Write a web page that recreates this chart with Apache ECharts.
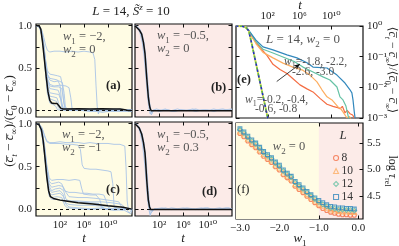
<!DOCTYPE html>
<html><head><meta charset="utf-8">
<script src="https://cdn.jsdelivr.net/npm/echarts@6/dist/echarts.min.js"></script>
<style>html,body{margin:0;padding:0;background:#fff}#c{width:399px;height:246px}</style>
</head><body><div id="c"></div>
<script>
// ---------------- DATA ----------------
// time axes are stored as log10(t)
const tTicks = [2, 6, 10];
// panel (a): w1=-2, w2=0
const aMean = [[-2,1],[-1.5,1],[-1.2,0.96],[-0.9,0.8],[-0.6,0.6],[-0.3,0.4],[0,0.22],[0.3,0.12],[0.6,0.09],[1.0,0.085],[1.5,0.085],[1.8,0.07],[2.1,0.03],[2.5,0.02],[3,0.02],[5,0.022],[7,0.02],[9,0.022],[11,0.02],[12,0.018],[12.8,0.01],[13.3,0.003],[14,0.002]];
const aRuns = [
 [[-2,1],[-1.4,0.99],[-1.0,0.94],[-0.7,0.86],[-0.4,0.77],[-0.1,0.71],[0.3,0.69],[1,0.7],[2,0.7],[3,0.69],[4,0.7],[5,0.69],[6,0.7],[7,0.69],[7.5,0.68],[7.8,0.6],[8.0,0.3],[8.2,0.05],[8.4,-0.04],[8.6,0.01],[9,0.0],[10,0.01],[11,-0.01],[12,0.0],[13,0.01],[14,0.0]],
 [[-2,1],[-1.4,0.99],[-1.0,0.92],[-0.7,0.78],[-0.4,0.6],[-0.1,0.47],[0.3,0.43],[1,0.42],[1.6,0.41],[2.1,0.4],[2.4,0.3],[2.6,0.1],[2.8,0.03],[3.2,0.01],[4,0.02],[6,0.0],[8,0.01],[10,-0.01],[12,0.01],[14,0.0]],
 [[-2,1],[-1.4,0.99],[-1.0,0.91],[-0.7,0.76],[-0.4,0.57],[-0.1,0.42],[0.3,0.36],[1,0.34],[1.8,0.35],[2.4,0.33],[2.7,0.2],[2.9,0.04],[3.3,0.02],[5,0.01],[7,0.02],[9,0.0],[11,0.01],[13,-0.01],[14,0.0]],
 [[-2,1],[-1.4,0.99],[-1.0,0.92],[-0.7,0.77],[-0.4,0.58],[-0.1,0.43],[0.3,0.38],[1,0.37],[1.6,0.36],[2.0,0.3],[2.3,0.08],[2.6,0.02],[4,0.0],[6,0.01],[8,0.0],[10,0.02],[12,0.0],[14,0.01]],
 [[-2,1],[-1.4,0.99],[-1.0,0.9],[-0.7,0.74],[-0.4,0.55],[-0.1,0.38],[0.3,0.31],[1,0.29],[2,0.3],[3,0.29],[3.5,0.27],[3.8,0.15],[4.0,0.03],[4.4,0.01],[6,0.02],[8,0.0],[10,0.01],[12,0.0],[14,0.01]],
 [[-2,1],[-1.4,0.99],[-1.0,0.9],[-0.7,0.74],[-0.4,0.54],[-0.1,0.36],[0.3,0.29],[1,0.28],[1.8,0.28],[2.3,0.26],[2.6,0.12],[2.9,0.02],[4,0.01],[6,0.0],[8,0.01],[10,0.0],[12,0.02],[14,0.0]],
 [[-2,1],[-1.4,0.99],[-1.0,0.9],[-0.7,0.73],[-0.4,0.52],[-0.1,0.34],[0.3,0.26],[1,0.25],[1.7,0.24],[2.0,0.18],[2.3,0.04],[2.7,0.02],[4,0.01],[6,0.0],[8,0.02],[10,0.0],[12,-0.01],[14,0.0]],
 [[-2,1],[-1.4,0.98],[-1.0,0.89],[-0.7,0.72],[-0.4,0.5],[-0.1,0.3],[0.3,0.21],[1,0.2],[1.8,0.19],[2.2,0.12],[2.5,0.03],[3,0.01],[5,0.02],[7,0.0],[9,0.01],[11,0.0],[13,0.01],[14,-0.01]],
 [[-2,1],[-1.4,0.98],[-1.0,0.88],[-0.7,0.7],[-0.4,0.47],[-0.1,0.27],[0.3,0.17],[1,0.16],[1.5,0.15],[1.8,0.08],[2.1,0.02],[3,0.01],[5,0.0],[7,0.01],[9,-0.02],[11,0.0],[13,0.01],[14,0.0]],
 [[-2,1],[-1.4,0.98],[-1.0,0.88],[-0.7,0.69],[-0.4,0.45],[-0.1,0.24],[0.3,0.14],[1,0.12],[1.4,0.11],[1.7,0.04],[2.0,0.01],[4,0.02],[6,0.0],[8,-0.01],[10,0.01],[12,0.0],[14,0.01]],
 [[-2,1],[-1.4,0.98],[-1.0,0.87],[-0.7,0.68],[-0.4,0.43],[-0.1,0.2],[0.3,0.09],[0.9,0.07],[1.3,0.05],[1.6,0.01],[3,0.0],[5,0.01],[7,-0.01],[9,0.0],[11,0.02],[13,0.0],[14,-0.01]]
];
// panel (b): w1=-0.5, w2=0
const bMean = [[-2,1],[-1.7,0.98],[-1.3,0.95],[-0.9,0.9],[-0.6,0.8],[-0.35,0.67],[-0.2,0.52],[-0.07,0.39],[0.07,0.27],[0.2,0.16],[0.35,0.08],[0.48,0.03],[0.65,0.0],[0.8,-0.01],[1.2,0.0],[3,0.0],[6,0.0],[9,0.0],[12,0.0],[14,0.0]];
const bRuns = [
 [[-2,1],[-1.6,0.98],[-1.2,0.94],[-0.8,0.85],[-0.5,0.72],[-0.3,0.6],[-0.1,0.42],[0.1,0.25],[0.3,0.1],[0.5,0.0],[0.7,-0.05],[0.9,-0.02],[1.2,0.01],[2,-0.01],[3,0.01],[4,0.0],[5,0.02],[6,0.0],[7,0.01],[8,-0.01],[9,0.01],[10,0.0],[11,0.02],[12,0.0],[13,0.01],[14,0.02]],
 [[-2,1],[-1.6,0.99],[-1.2,0.96],[-0.8,0.9],[-0.5,0.8],[-0.2,0.62],[0,0.45],[0.2,0.26],[0.4,0.1],[0.6,0.02],[0.8,-0.03],[1,0.0],[1.5,0.02],[2.5,0.0],[3.5,0.01],[4.5,-0.01],[5.5,0.01],[6.5,0.0],[7.5,0.02],[8.5,0.0],[9.5,0.01],[10.5,0.0],[11.5,0.01],[12.5,0.02],[13.5,0.0],[14,0.01]],
 [[-2,1],[-1.6,0.97],[-1.2,0.92],[-0.8,0.8],[-0.5,0.64],[-0.3,0.48],[-0.1,0.3],[0.1,0.14],[0.3,0.03],[0.5,-0.04],[0.7,-0.02],[1,0.01],[2,0.0],[3,0.02],[4,-0.01],[5,0.0],[6,0.01],[7,0.0],[8,0.02],[9,0.0],[10,0.01],[11,-0.01],[12,0.01],[13,0.0],[14,0.01]]
];
// panel (c): w1=-2, w2=-1
const cMean = [[-2,1],[-1.5,0.99],[-1.1,0.93],[-0.8,0.8],[-0.5,0.6],[-0.2,0.38],[0.1,0.22],[0.4,0.15],[0.9,0.13],[2,0.11],[3,0.1],[5,0.08],[7.5,0.065],[10,0.045],[12.5,0.027],[14,0.005]];
const cRuns = [
 [[-2,1],[-1.4,0.99],[-1.0,0.95],[-0.6,0.87],[-0.2,0.8],[0.3,0.78],[1,0.78],[2,0.79],[3,0.78],[4,0.78],[5,0.78],[6,0.77],[7,0.78],[8,0.77],[9,0.77],[10,0.77],[11,0.76],[12,0.76],[12.8,0.74],[13.0,0.5],[13.2,0.1],[13.4,0.0],[14,0.01]],
 [[-2,1],[-1.4,0.99],[-1.0,0.95],[-0.6,0.86],[-0.2,0.79],[0.3,0.77],[1,0.77],[2,0.77],[3,0.76],[4,0.76],[5,0.75],[5.4,0.7],[5.7,0.52],[6.0,0.48],[7,0.47],[8,0.47],[9,0.46],[10,0.45],[10.5,0.44],[10.8,0.3],[11.0,0.05],[11.3,0.0],[12,0.01],[13,0.0],[14,0.0]],
 [[-2,1],[-1.4,0.99],[-1,0.92],[-0.6,0.76],[-0.2,0.52],[0.2,0.37],[0.6,0.34],[1.5,0.35],[2.5,0.35],[3.5,0.34],[4.5,0.35],[5.3,0.34],[5.6,0.25],[5.9,0.18],[7,0.17],[8,0.17],[8.6,0.12],[9,0.03],[9.5,0.01],[11,0.0],[13,0.01],[14,0.0]],
 [[-2,1],[-1.4,0.99],[-1,0.92],[-0.6,0.75],[-0.2,0.5],[0.2,0.33],[0.6,0.3],[1.2,0.31],[1.8,0.32],[2.3,0.3],[2.7,0.22],[3.5,0.2],[4.5,0.2],[5.5,0.19],[6.5,0.19],[7.5,0.18],[8.5,0.18],[9.3,0.17],[9.7,0.1],[10,0.03],[10.5,0.01],[12,0.0],[13,0.01],[14,0.0]],
 [[-2,1],[-1.4,0.99],[-1,0.91],[-0.6,0.73],[-0.2,0.47],[0.2,0.3],[0.6,0.26],[1.2,0.27],[1.8,0.28],[2.5,0.27],[3,0.2],[3.5,0.15],[5,0.14],[6.5,0.14],[8,0.13],[9,0.12],[10,0.11],[11,0.1],[11.8,0.09],[12.2,0.04],[12.6,0.01],[13.5,0.0],[14,0.01]],
 [[-2,1],[-1.4,0.99],[-1,0.9],[-0.6,0.72],[-0.2,0.45],[0.2,0.27],[0.6,0.22],[1.2,0.24],[2,0.25],[2.6,0.22],[3,0.12],[3.5,0.1],[5,0.09],[7,0.08],[8.5,0.07],[9,0.02],[9.5,0.0],[11,0.01],[12.5,-0.01],[13,0.02],[13.5,-0.04],[14,0.0]],
 [[-2,1],[-1.4,0.98],[-1,0.89],[-0.6,0.7],[-0.2,0.42],[0.2,0.24],[0.6,0.2],[1.2,0.21],[2,0.22],[2.5,0.18],[2.9,0.08],[3.5,0.06],[5,0.05],[7,0.05],[9,0.04],[10.5,0.04],[11.5,0.02],[12,0.0],[13,0.01],[14,0.0]],
 [[-2,1],[-1.4,0.98],[-1,0.88],[-0.6,0.68],[-0.2,0.4],[0.2,0.2],[0.6,0.17],[1.2,0.18],[2,0.19],[2.6,0.15],[3,0.06],[3.5,0.03],[5,0.02],[7,0.01],[9,0.02],[11,0.0],[13,0.01],[14,0.0]],
 [[-2,1],[-1.4,0.98],[-1,0.88],[-0.6,0.67],[-0.2,0.38],[0.2,0.18],[0.6,0.14],[1.5,0.15],[2.3,0.14],[2.8,0.05],[3.2,0.02],[5,0.01],[7,0.0],[9,0.01],[11,-0.01],[12.5,0.0],[13.8,-0.05],[14,0.0]],
 [[-2,1],[-1.4,0.98],[-1,0.87],[-0.6,0.66],[-0.2,0.36],[0.2,0.16],[0.6,0.12],[1.5,0.12],[2.3,0.11],[3,0.1],[5,0.1],[7,0.09],[9,0.09],[10.5,0.08],[11.5,0.07],[12.3,0.06],[12.8,0.02],[13.2,0.0],[14,0.01]]
];
// panel (d): w1=-0.5, w2=0.3
const dMean = [[-2,1],[-1.7,0.99],[-1.3,0.95],[-0.9,0.88],[-0.6,0.78],[-0.35,0.66],[-0.2,0.5],[-0.07,0.35],[0.07,0.22],[0.2,0.11],[0.4,0.03],[0.6,0.0],[0.8,-0.01],[1.2,0.0],[3,0.0],[6,0.0],[9,0.0],[12,0.0],[14,0.0]];
const dRuns = [
 [[-2,1],[-1.6,0.98],[-1.2,0.93],[-0.8,0.83],[-0.5,0.7],[-0.3,0.57],[-0.1,0.38],[0.1,0.2],[0.3,0.05],[0.5,-0.05],[0.7,-0.06],[0.9,-0.02],[1.2,0.01],[2,0.0],[3,0.02],[4,0.0],[5,0.01],[6,0.02],[7,0.0],[8,0.01],[9,0.02],[10,0.0],[11,0.01],[12,0.02],[13,0.0],[14,0.01]],
 [[-2,1],[-1.6,0.99],[-1.2,0.95],[-0.8,0.88],[-0.5,0.77],[-0.2,0.6],[0,0.42],[0.2,0.22],[0.4,0.06],[0.6,-0.02],[0.8,-0.04],[1,0.0],[1.5,0.01],[2.5,0.02],[3.5,0.0],[4.5,0.01],[5.5,0.0],[6.5,0.02],[7.5,0.01],[8.5,0.0],[9.5,0.02],[10.5,0.01],[11.5,0.0],[12.5,0.01],[13.5,0.02],[14,0.0]],
 [[-2,1],[-1.6,0.97],[-1.2,0.91],[-0.8,0.78],[-0.5,0.6],[-0.3,0.45],[-0.1,0.26],[0.1,0.1],[0.3,0.0],[0.5,-0.07],[0.7,-0.03],[1,0.0],[2,0.01],[3,0.0],[4,0.02],[5,0.01],[6,0.0],[7,0.01],[8,0.0],[9,0.01],[10,0.02],[11,0.0],[12,0.01],[13,0.02],[14,0.01]]
];
// panel (e): [log10 t, log10 ratio], L=14, w2=0
const eCurves = [
 [[-2,0],[-1.1,0],[-0.7,-0.04],[-0.24,-0.24],[0.02,-0.36],[1.02,-0.7],[1.9,-0.96],[2.66,-1.25],[3.54,-1.42],[4.42,-1.55],[5.18,-1.72],[6.06,-1.92],[6.94,-2.05],[7.7,-2.15],[8.58,-2.36],[9.46,-2.55],[10.22,-2.62],[10.8,-2.66],[11.1,-2.7],[11.4,-2.62],[11.73,-2.83],[12.0,-2.75],[12.36,-2.86],[12.7,-2.9],[12.99,-3.05]],
 [[-2,0],[-1.1,0],[-0.7,-0.04],[-0.24,-0.23],[0.52,-0.58],[1.4,-0.86],[2.66,-1.04],[3.92,-1.21],[5.18,-1.34],[6.31,-1.43],[7.32,-1.6],[8.2,-1.82],[8.83,-2.08],[9.46,-2.31],[10.09,-2.41],[10.85,-2.64],[11.2,-2.7],[11.48,-2.8],[11.7,-2.74],[11.98,-3.0],[12.3,-2.95],[12.6,-3.1]],
 [[-2,0],[-1.1,0],[-0.7,-0.04],[-0.24,-0.2],[0.52,-0.5],[1.4,-0.76],[2.66,-0.88],[3.92,-1.01],[5.43,-1.17],[6.44,-1.34],[7.7,-1.5],[8.96,-1.66],[9.84,-1.76],[10.72,-1.99],[11.1,-2.31],[11.48,-2.41],[11.85,-2.61],[12.23,-3.05]],
 [[-2,0],[-1.1,0],[-0.7,-0.04],[-0.24,-0.2],[0.52,-0.46],[1.4,-0.68],[2.66,-0.78],[4.42,-0.94],[5.68,-1.04],[6.94,-1.2],[7.7,-1.34],[9.46,-1.37],[10.72,-1.6],[11.73,-1.86],[12.36,-2.08],[12.6,-2.18],[12.74,-2.41],[12.9,-2.8],[13.05,-3.1]]
];
const eFast = [[-2,0],[-1.2,-0.01],[-0.8,-0.04],[-0.4,-0.15],[0,-0.6],[0.5,-1.2],[1.0,-1.8],[1.5,-2.4],[2.0,-3.0],[2.2,-3.24]];
// panel (f): log tau_rel vs w1, w2=0
const fW1 = [-3.0,-2.9,-2.8,-2.7,-2.6,-2.5,-2.4,-2.3,-2.2,-2.1,-2.0,-1.9,-1.8,-1.7,-1.6,-1.5,-1.4,-1.3,-1.2,-1.1,-1.0,-0.9,-0.8,-0.7,-0.6,-0.5,-0.4,-0.3,-0.2,-0.1];
const fL = ['8','10','12','14'];
const fL8  = [5.68,5.62,5.54,5.47,5.41,5.33,5.25,5.19,5.13,5.05,4.99,4.90,4.84,4.78,4.68,4.62,4.56,4.49,4.43,4.37,4.31,4.26,4.22,4.19,4.17,4.15,4.14,4.14,4.13,4.13];
const fL10 = [5.72,5.66,5.58,5.51,5.45,5.37,5.29,5.23,5.17,5.09,5.03,4.94,4.88,4.82,4.72,4.66,4.60,4.53,4.47,4.41,4.35,4.31,4.27,4.24,4.22,4.21,4.20,4.20,4.19,4.19];
const fL12 = [5.75,5.69,5.61,5.54,5.48,5.40,5.32,5.26,5.20,5.12,5.06,4.97,4.91,4.85,4.75,4.69,4.63,4.56,4.50,4.44,4.38,4.34,4.30,4.27,4.26,4.24,4.24,4.23,4.23,4.22];
const fL14 = [5.77,5.71,5.63,5.56,5.50,5.42,5.34,5.28,5.22,5.14,5.08,4.99,4.93,4.87,4.77,4.71,4.65,4.58,4.52,4.46,4.41,4.37,4.33,4.30,4.29,4.27,4.27,4.26,4.26,4.25];

// ---------------- STYLE ----------------
const FONT = "'Liberation Serif','DejaVu Serif',serif";
const YEL = '#fffce4', PINK = '#fcebe8', RUN = '#a9c4e6', INK = '#111';
const SPEC = ['#f46d43','#fdae61','#66c2a5','#3288bd'];
const SUP = {'0':'⁰','1':'¹','2':'²','3':'³','4':'⁴','5':'⁵','6':'⁶','7':'⁷','8':'⁸','9':'⁹','-':'⁻'};
const pow10 = v => '10' + String(Math.round(v)).split('').map(c => SUP[c]).join('');
const dec1 = v => (v < 0 ? '−' : '') + Math.abs(v).toFixed(1);

const grids = [
  {left:36, top:24, width:96, height:93, backgroundColor:YEL},
  {left:135, top:24, width:97, height:93, backgroundColor:PINK},
  {left:36, top:122, width:96, height:94, backgroundColor:YEL},
  {left:135, top:122, width:97, height:94, backgroundColor:PINK},
  {left:236, top:26, width:127, height:92, backgroundColor:'#fff'},
  {left:236, top:123, width:127, height:96, backgroundColor:PINK}
].map(g => Object.assign({show:true, borderColor:INK, borderWidth:1.2}, g));

function ax(gi, min, max, pos, ticks, labels, fmt) {
  return {type:'value', gridIndex:gi, min:min, max:max, position:pos,
    axisLine:{show:false, onZero:false},
    axisTick:{show:true, inside:true, length:3.5, customValues:ticks, lineStyle:{color:INK, width:1}},
    axisLabel:labels ? {show:true, customValues:labels, formatter:fmt, color:'#222', fontFamily:FONT, fontSize:11, margin:4} : {show:false},
    splitLine:{show:false}};
}
const yTicks = [0,0.25,0.5,0.75,1.0], yLab = [0,0.5,1.0];
const xAxes = [], yAxes = [];
for (let gi = 0; gi < 4; gi++) {
  const showX = gi >= 2, showY = (gi % 2 === 0);
  xAxes.push(ax(gi, -2, 14, 'bottom', tTicks, showX ? tTicks : null, pow10));
  xAxes.push(ax(gi, -2, 14, 'top', tTicks, null));
  yAxes.push(ax(gi, -0.075, 1.02, 'left', yTicks, showY ? yLab : null, v => v.toFixed(1)));
  yAxes.push(ax(gi, -0.075, 1.02, 'right', yTicks, null));
}
// (e)
xAxes.push(ax(4, -2, 14, 'top', tTicks, tTicks, pow10));
xAxes.push(ax(4, -2, 14, 'bottom', tTicks, null));
yAxes.push(ax(4, -3, 0, 'right', [-3,-2,-1,0], [-3,-2,-1,0], pow10));
yAxes.push(ax(4, -3, 0, 'left', [-3,-2,-1,0], null));
// (f)
xAxes.push(ax(5, -3.1, 0.12, 'bottom', [-3,-2,-1,0], [-3,-2,-1,0], dec1));
xAxes.push(ax(5, -3.1, 0.12, 'top', [-3,-2,-1,0], null));
yAxes.push(ax(5, 4.06, 5.88, 'right', [4.5,5.0,5.5], [4.5,5.0,5.5], v => v.toFixed(1)));
yAxes.push(ax(5, 4.06, 5.88, 'left', [4.5,5.0,5.5], null));

const series = [];
function line(gi, data, color, width, extra) {
  series.push(Object.assign({type:'line', xAxisIndex:2*gi, yAxisIndex:2*gi, data:data, symbol:'none',
    showSymbol:false, silent:true, animation:false, clip:true,
    lineStyle:{color:color, width:width}}, extra || {}));
}
const zeroLine = {markLine:{silent:true, symbol:['none','none'], label:{show:false},
  lineStyle:{color:INK, type:[3,3], width:1}, data:[{yAxis:0}], animation:false}};
[[aRuns,aMean],[bRuns,bMean],[cRuns,cMean],[dRuns,dMean]].forEach(([runs, mean], gi) => {
  runs.forEach(r => line(gi, r, RUN, 0.9, {z:2}));
  line(gi, mean, INK, 1.5, Object.assign({z:3}, zeroLine));
});
// (e)
eCurves.forEach((c, k) => line(4, c, SPEC[k], 1.2, {z:3}));
line(4, eFast, '#d7e04a', 1.8, {z:4});
line(4, eFast, '#55b04e', 1.6, {z:5, lineStyle:{color:'#55b04e', width:1.6, type:[2,4], dashOffset:2}});
line(4, eFast, '#1f2fc8', 1.6, {z:6, lineStyle:{color:'#1f2fc8', width:1.6, type:[2.5,3.5]},
  markLine:{silent:true, symbol:['none','arrow'], symbolSize:[4,6], label:{show:false}, animation:false,
    lineStyle:{color:INK, width:0.8, type:'solid'}, data:[[{coord:[3.13,-1.81]},{coord:[6.06,-1.24]}]]}});
// (f)
const fVals = [fL8, fL10, fL12, fL14];
const fSym = ['circle','triangle','diamond','rect'];
const fSize = [4, 4.8, 4.8, 3.8];
fVals.forEach((vals, k) => {
  const s = {type:'scatter', name:fL[k], xAxisIndex:10, yAxisIndex:10, data:fW1.map((w,i)=>[w, vals[i]]),
    symbol:fSym[k], symbolSize:fSize[k], silent:true, animation:false, z:3+k,
    itemStyle:{color:'rgba(0,0,0,0)', borderColor:SPEC[k], borderWidth:1.1}};
  if (k === 0) s.markArea = {silent:true, itemStyle:{color:YEL}, data:[[{xAxis:-3.1},{xAxis:-1.0}]]};
  series.push(s);
});
const legends = fL.map((n, k) => ({orient:'vertical', left:333, top:152 + 13*k, itemWidth:5, itemHeight:5,
  padding:0, selectedMode:false,
  textStyle:{fontFamily:FONT, fontSize:11.5, color:'#333', padding:[0,0,0,-2]},
  data:[{name:n, icon:fSym[k], itemStyle:{color:'rgba(0,0,0,0)', borderColor:SPEC[k], borderWidth:1.1}}]}));

// ---------------- TEXT ----------------
function R(base, color) {
  const lh = base + 5;
  return {
    n:{fontFamily:FONT, fontSize:base, fill:color, lineHeight:lh},
    i:{fontFamily:FONT, fontSize:base, fontStyle:'italic', fill:color, lineHeight:lh},
    b:{fontFamily:FONT, fontSize:base, fontWeight:'bold', fill:color, lineHeight:lh},
    s:{fontFamily:FONT, fontSize:Math.round(base*0.7), fill:color, verticalAlign:'bottom'},
    si:{fontFamily:FONT, fontSize:Math.round(base*0.7), fontStyle:'italic', fill:color, verticalAlign:'bottom'},
    p:{fontFamily:FONT, fontSize:Math.round(base*0.7), fontStyle:'italic', fill:color, verticalAlign:'top'}
  };
}
function T(x, y, text, size, color, align, rot) {
  return {type:'text', x:x, y:y, rotation:rot || 0, z:100, silent:true,
    style:{text:text, rich:R(size, color), fontFamily:FONT, fontSize:size, fill:color,
      align:align || 'left', verticalAlign:'middle'}};
}
const GR = '#555';
const w = (k, rest) => '{i|w}{s|' + k + '}{n|' + rest + '}';
const graphic = [
  T(131, 12, '{i|L}{n| = 14, }{i|S\u0303}{p|z}{n| = 10}', 13, '#222', 'center'),
  T(10, 121, '{n|(}{i|c\u0305}{si|t}{n| − }{i|c\u0305}{s|∞}{n|)/(}{i|c\u0305}{s|0}{n| − }{i|c\u0305}{s|∞}{n|)}', 13, '#222', 'center', Math.PI/2),
  T(392, 70, '{n|⟨}{i|c\u0305}{si|t}{n| − }{i|c\u0305}{s|∞}{n|⟩/⟨}{i|c\u0305}{s|0}{n| − }{i|c\u0305}{s|∞}{n|⟩}', 12, '#222', 'center', -Math.PI/2),
  T(392, 171, '{n|log }{i|τ}{s|rel}', 12, '#222', 'center', -Math.PI/2),
  T(84, 239, '{i|t}', 13, '#222', 'center'),
  T(183, 239, '{i|t}', 13, '#222', 'center'),
  T(300, 6, '{i|t}', 13, '#222', 'center'),
  T(300, 239, '{i|w}{s|1}', 13, '#222', 'center'),
  // (a)
  T(63, 37, w(1, ' = −2,'), 12.5, GR), T(63, 50, w(2, ' = 0'), 12.5, GR),
  T(106, 86, '{b|(a)}', 12.5, '#222'),
  // (b)
  T(157, 36, w(1, ' = −0.5,'), 12.5, GR), T(157, 49, w(2, ' = 0'), 12.5, GR),
  T(211, 88, '{b|(b)}', 12.5, '#222'),
  // (c)
  T(62, 135, w(1, ' = −2,'), 12.5, GR), T(62, 148, w(2, ' = −1'), 12.5, GR),
  T(106, 190, '{b|(c)}', 12.5, '#222'),
  // (d)
  T(157, 135, w(1, ' = −0.5,'), 12.5, GR), T(157, 148, w(2, ' = 0.3'), 12.5, GR),
  T(202, 192, '{b|(d)}', 12.5, '#222'),
  // (e)
  T(303, 40, '{i|L}{n| = 14, }{i|w}{s|2}{n| = 0}', 13, GR, 'center'),
  T(284, 62, w(1, '=-1.8, -2.2,'), 11.5, GR),
  T(292, 72, '{n|-2.6, -3.0}', 11.5, GR),
  T(237, 80, '{b|(e)}', 12.5, '#222'),
  T(245, 100, w(1, '=-0.2, -0.4,'), 11.5, GR),
  T(255, 109, '{n|-0.6, -0.8}', 11.5, GR),
  // (f)
  T(289, 147, '{i|w}{s|2}{n| = 0}', 12.5, GR, 'center'),
  T(237, 190, '{n|(f)}', 12.5, '#222'),
  T(343, 136, '{i|L}', 13, '#333', 'center')
];

const option = {
  animation:false,
  grid:grids, xAxis:xAxes, yAxis:yAxes, series:series, graphic:graphic, legend:legends
};
const chart = echarts.init(document.getElementById('c'), null, {renderer:'canvas'});
chart.setOption(option);
</script></body></html>
